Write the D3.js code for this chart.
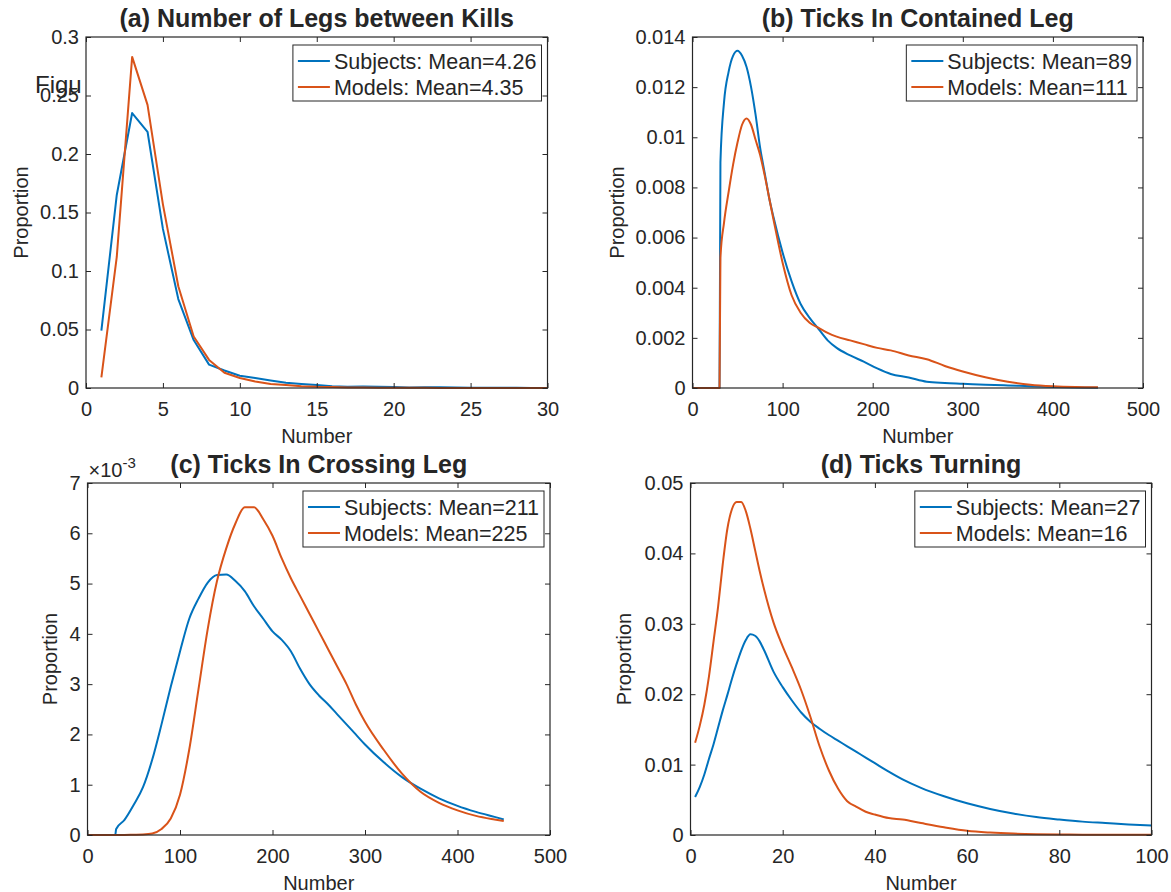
<!DOCTYPE html>
<html>
<head>
<meta charset="utf-8">
<script src="https://cdn.jsdelivr.net/npm/d3@7"></script>
<style>
  body { margin: 0; background: #fff; }
  text { font-family: "Liberation Sans", Arial, Helvetica, sans-serif; fill: #262626; }
</style>
</head>
<body>
<svg width="1171" height="892"></svg>
<script>
const svg = d3.select('svg');

// series order and colours (blue first, orange drawn on top)
const seriesNames = ['Subjects', 'Models'];
const seriesColors = ['#0072BD', '#D95319'];

// (a) number of legs between kills
const legsX = [1,2,3,4,5,6,7,8,9,10,11,12,13,14,15,16,17,18,19,20,21,22,23,24,25,26,27,28,29,30];
const legsSubjects = [0.049,0.165,0.235,0.219,0.136,0.076,0.041,0.020,0.015,0.0105,0.0085,0.0065,0.0045,0.0035,0.0025,0.0015,0.001,0.0012,0.001,0.0008,0.0005,0.0006,0.0006,0.0004,0.0003,0.0003,0.0002,0.0002,0.0001,0.0001];
const legsModels = [0.009,0.112,0.283,0.242,0.157,0.087,0.044,0.024,0.013,0.0085,0.0055,0.0035,0.0025,0.0015,0.001,0.0008,0.0005,0.0004,0.0003,0.0003,0.0002,0.0002,0.0001,0.0001,0.0001,0.0001,0.0001,0.0001,0.0001,0.0001];
const legsMeans = ['4.26', '4.35'];
const legsXTicks = [0,5,10,15,20,25,30];
const legsYTicks = [0,0.05,0.1,0.15,0.2,0.25,0.3];

// (b) ticks in contained leg
const containedX = [0,10,20,30,31,35,40,45,50,55,60,65,70,75,80,85,90,100,110,120,130,140,150,160,175,190,205,220,240,260,280,300,325,350,375,400,425,450];
const containedSubjects = [0,0,0,0,0.0090,0.0114,0.0126,0.01325,0.01345,0.01325,0.0128,0.0120,0.0109,0.0096,0.0086,0.0076,0.0068,0.0054,0.00425,0.00335,0.0028,0.00235,0.0019,0.0016,0.0013,0.00105,0.00078,0.00056,0.00042,0.00025,0.0002,0.00017,0.00013,0.0001,0.00007,0.00004,0.00002,0.00001];
const containedModels = [0,0,0,0,0.0052,0.0066,0.0078,0.0089,0.0098,0.0105,0.01075,0.0105,0.0099,0.0093,0.0085,0.0076,0.0067,0.0050,0.0037,0.0030,0.0026,0.0024,0.0022,0.00205,0.0019,0.00175,0.0016,0.0015,0.0013,0.00115,0.00088,0.00066,0.00043,0.00025,0.00013,0.00007,0.00004,0.00003];
const containedMeans = ['89', '111'];
const containedXTicks = [0,100,200,300,400,500];
const containedYTicks = [0,0.002,0.004,0.006,0.008,0.01,0.012,0.014];

// (c) ticks in crossing leg, values in units of 1e-3
const crossingX = [0,10,20,30,31,40,50,60,70,80,90,100,110,120,130,140,150,160,170,180,190,200,210,220,230,240,250,260,270,280,290,300,320,340,360,380,400,420,440,450];
const crossingSubjects = [0,0,0,0,0.12,0.3,0.6,0.95,1.5,2.2,2.95,3.65,4.3,4.7,5.02,5.17,5.18,5.05,4.85,4.55,4.3,4.05,3.88,3.65,3.3,3.0,2.78,2.6,2.4,2.2,2.0,1.8,1.45,1.15,0.92,0.73,0.58,0.46,0.36,0.31];
const crossingModels = [0,0,0,0,0,0.002,0.005,0.01,0.03,0.12,0.33,0.8,1.7,2.9,4.1,5.05,5.7,6.2,6.52,6.52,6.28,5.95,5.5,5.1,4.75,4.4,4.05,3.7,3.35,3.0,2.6,2.25,1.7,1.22,0.86,0.64,0.49,0.38,0.31,0.28];
const crossingMeans = ['211', '225'];
const crossingXTicks = [0,100,200,300,400,500];
const crossingYTicks = [0,1,2,3,4,5,6,7];

// (d) ticks turning
const turningX = [1,2,3,4,5,6,7,8,9,10,11,12,13,14,15,16,18,20,22,24,26,28,30,32,34,36,38,40,43,46,50,55,60,65,70,75,80,85,90,95,100];
const turningSubjects = [0.0054,0.0068,0.0086,0.0108,0.0129,0.0153,0.0177,0.0199,0.0222,0.0243,0.0262,0.0277,0.0285,0.0283,0.0275,0.0262,0.0232,0.0210,0.0191,0.0174,0.0161,0.0151,0.0142,0.0134,0.0126,0.0118,0.0110,0.0102,0.0090,0.0079,0.0067,0.0055,0.0045,0.0037,0.00305,0.00255,0.0022,0.0019,0.0017,0.0015,0.00135];
const turningModels = [0.0131,0.0155,0.0185,0.0225,0.0275,0.0325,0.0385,0.0435,0.0463,0.0473,0.0473,0.0460,0.0435,0.0405,0.0375,0.0348,0.0302,0.0268,0.0238,0.0206,0.0168,0.0126,0.0092,0.0066,0.0048,0.0040,0.0033,0.0029,0.0024,0.0022,0.0017,0.0011,0.0006,0.00035,0.0002,0.00012,0.00008,0.00005,0.00004,0.00003,0.00002];
const turningMeans = ['27', '16'];
const turningXTicks = [0,20,40,60,80,100];
const turningYTicks = [0,0.01,0.02,0.03,0.04,0.05];

const tickSize = 5;
const fmt = d3.format('~g');

const render = (p) => {
    const w = p.right - p.left;
    const h = p.bottom - p.top;

    const xScale = d3.scaleLinear().domain(p.xDomain).range([0, w]);
    const yScale = d3.scaleLinear().domain(p.yDomain).range([h, 0]);

    const g = svg.append('g')
        .attr('transform', `translate(${p.left}, ${p.top})`);

    // lines
    const line = d3.line()
        .x((d, i) => xScale(p.x[i]))
        .y(d => yScale(d))
        .curve(p.curve);

    p.series.forEach((s, i) => {
        g.append('path')
            .attr('d', line(s))
            .attr('fill', 'none')
            .attr('stroke', seriesColors[i])
            .attr('stroke-width', 2)
            .attr('stroke-linejoin', 'round');
    });

    // axes, ticks pointing inward on all four sides
    const styleAxis = sel => {
        sel.selectAll('.domain').remove();
        sel.selectAll('line').attr('stroke', '#262626');
        sel.selectAll('text').attr('font-size', 20).attr('fill', '#262626')
            .style('font-family', '"Liberation Sans", Arial, sans-serif');
    };

    g.append('g')
        .attr('transform', `translate(0, ${h})`)
        .call(d3.axisBottom(xScale).tickValues(p.xTicks).tickFormat(fmt)
            .tickSizeInner(-tickSize).tickSizeOuter(0).tickPadding(14))
        .call(styleAxis);
    g.append('g')
        .call(d3.axisTop(xScale).tickValues(p.xTicks).tickFormat('')
            .tickSizeInner(-tickSize).tickSizeOuter(0))
        .call(styleAxis);
    g.append('g')
        .call(d3.axisLeft(yScale).tickValues(p.yTicks).tickFormat(fmt)
            .tickSizeInner(-tickSize).tickSizeOuter(0).tickPadding(7))
        .call(styleAxis);
    g.append('g')
        .attr('transform', `translate(${w}, 0)`)
        .call(d3.axisRight(yScale).tickValues(p.yTicks).tickFormat('')
            .tickSizeInner(-tickSize).tickSizeOuter(0))
        .call(styleAxis);

    g.append('rect')
        .attr('width', w)
        .attr('height', h)
        .attr('fill', 'none')
        .attr('stroke', '#262626')
        .attr('stroke-width', 1.2);

    // title and axis labels
    g.append('text')
        .attr('x', w / 2)
        .attr('y', -10)
        .attr('text-anchor', 'middle')
        .attr('font-size', 25)
        .attr('font-weight', 'bold')
        .attr('fill', '#000')
        .text(p.title);

    g.append('text')
        .attr('x', w / 2)
        .attr('y', h + 55)
        .attr('text-anchor', 'middle')
        .attr('font-size', 20)
        .text('Number');

    g.append('text')
        .attr('transform', `translate(${p.yLabelX}, ${h / 2}) rotate(-90)`)
        .attr('text-anchor', 'middle')
        .attr('font-size', 20)
        .text('Proportion');

    // legend
    const leg = g.append('g');
    const box = leg.append('rect')
        .attr('fill', '#fff')
        .attr('stroke', '#262626')
        .attr('stroke-width', 1);
    let maxW = 0;
    seriesNames.forEach((name, i) => {
        const cy = 16 + i * 26;
        leg.append('line')
            .attr('x1', 5).attr('x2', 37)
            .attr('y1', cy).attr('y2', cy)
            .attr('stroke', seriesColors[i])
            .attr('stroke-width', 2);
        const t = leg.append('text')
            .attr('x', 41)
            .attr('y', cy + 7.5)
            .attr('font-size', 21.5)
            .text(`${name}: Mean=${p.means[i]}`);
        maxW = Math.max(maxW, t.node().getComputedTextLength());
    });
    const boxW = 41 + maxW + 5;
    box.attr('width', boxW).attr('height', 56);
    leg.attr('transform', `translate(${w - 6 - boxW}, 8)`);

    return g;
};

render({
    left: 86, right: 547.5, top: 37, bottom: 388,
    x: legsX, series: [legsSubjects, legsModels], means: legsMeans,
    xDomain: [0, 30], yDomain: [0, 0.3],
    xTicks: legsXTicks, yTicks: legsYTicks,
    curve: d3.curveLinear,
    title: '(a) Number of Legs between Kills',
    yLabelX: -58
});

render({
    left: 692.5, right: 1143, top: 37, bottom: 388,
    x: containedX, series: [containedSubjects, containedModels], means: containedMeans,
    xDomain: [0, 500], yDomain: [0, 0.014],
    xTicks: containedXTicks, yTicks: containedYTicks,
    curve: d3.curveMonotoneX,
    title: '(b) Ticks In Contained Leg',
    yLabelX: -69
});

const gc = render({
    left: 87.5, right: 550, top: 483, bottom: 835,
    x: crossingX, series: [crossingSubjects, crossingModels], means: crossingMeans,
    xDomain: [0, 500], yDomain: [0, 7],
    xTicks: crossingXTicks, yTicks: crossingYTicks,
    curve: d3.curveMonotoneX,
    title: '(c) Ticks In Crossing Leg',
    yLabelX: -31
});

// exponent label for panel (c)
const expo = gc.append('text')
    .attr('x', 1)
    .attr('y', -6)
    .attr('font-size', 20);
expo.append('tspan').text('\u00d710');
expo.append('tspan').attr('font-size', 15).attr('dy', -9).text('-3');

render({
    left: 690.5, right: 1151.5, top: 483, bottom: 835,
    x: turningX, series: [turningSubjects, turningModels], means: turningMeans,
    xDomain: [0, 100], yDomain: [0, 0.05],
    xTicks: turningXTicks, yTicks: turningYTicks,
    curve: d3.curveMonotoneX,
    title: '(d) Ticks Turning',
    yLabelX: -60
});

// stray overlapping text in the source figure
svg.append('text')
    .attr('x', 35)
    .attr('y', 93)
    .attr('font-size', 24)
    .attr('fill', '#333')
    .text('Figu');
</script>
</body>
</html>
